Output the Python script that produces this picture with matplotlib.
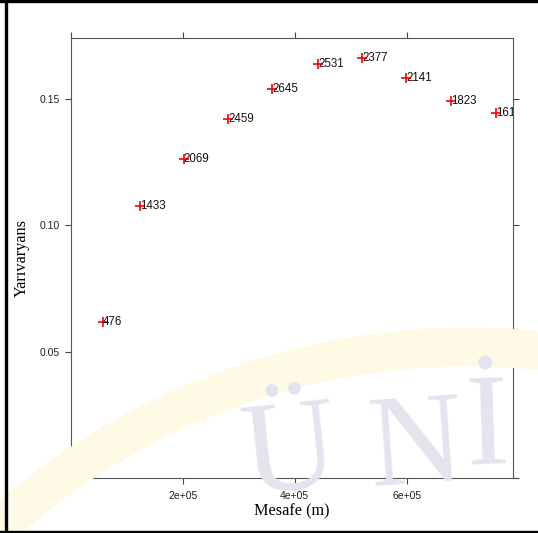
import matplotlib
matplotlib.use('Agg')
import matplotlib.pyplot as plt
from matplotlib.patches import Circle
from matplotlib.lines import Line2D

# empirical variogram: distance (m), semivariance, number of pairs
dist = [56400, 123700, 201800, 281400, 359500, 441600, 520200, 599300, 679600, 760000]
gamma = [0.0616, 0.1075, 0.1264, 0.1420, 0.1538, 0.1637, 0.1663, 0.1584, 0.1492, 0.1444]
npairs = ['476', '1433', '2069', '2459', '2645', '2531', '2377', '2141', '1823', '161']

x_ticks = [0, 200000, 400000, 600000]
x_labels = ['', '2e+05', '4e+05', '6e+05']
y_ticks = [0, 0.05, 0.10, 0.15]
y_labels = ['', '0.05', '0.10', '0.15']

fig = plt.figure(figsize=(5.38, 5.33), dpi=100)

# faint watermark in the background
ring = Circle((4.68, -5.16), 7.02, transform=fig.dpi_scale_trans, fill=False,
              edgecolor='#fefae6', lw=28, zorder=0)
fig.patches.append(ring)
wm = dict(color='#e4e4ef', family='Liberation Serif', fontsize=94,
          ha='center', va='baseline', zorder=0)
fig.text(290 / 538, 1 - 494 / 533, 'Ü', rotation=6, **wm)
fig.text(416 / 538, 1 - 486 / 533, 'N', rotation=4, **wm)
fig.text(487 / 538, 1 - 464 / 533, 'İ', rotation=2, **wm)

ax = fig.add_axes([71 / 538, 1 - 478 / 533, 442 / 538, 440 / 533])
ax.patch.set_alpha(0)

ax.plot(dist, gamma, linestyle='none', marker='+', color='red',
        markersize=7, markeredgewidth=1.2)
for d, g, n in zip(dist, gamma, npairs):
    ax.text(d, g, n, ha='left', va='center', fontsize=8.3,
            family='Liberation Sans', color='#111111', clip_on=True)

ax.set_xlim(0, 790000)
ax.set_ylim(0, 0.1741)
ax.set_xticks(x_ticks)
ax.set_xticklabels(x_labels)
ax.set_yticks(y_ticks)
ax.set_yticklabels(y_labels)
ax.tick_params(direction='out', length=4.2, width=0.8, color='#444444',
               labelsize=7.5, labelcolor='#222222',
               top=True, right=True, labeltop=False, labelright=False)
ax.tick_params(axis='x', pad=5)
ax.tick_params(axis='y', pad=4)
for lab in ax.get_xticklabels() + ax.get_yticklabels():
    lab.set_family('Liberation Sans')
for sp in ax.spines.values():
    sp.set_color('#555555')
    sp.set_linewidth(0.8)

ax.set_xlabel('Mesafe (m)', family='Liberation Serif', fontsize=11.7, labelpad=2)
ax.set_ylabel('Yarıvaryans', family='Liberation Serif', fontsize=11.7, labelpad=7)

# black frame on left, top and bottom of the image
for xs, ys in [([6 / 538, 6 / 538], [0, 1]), ([0, 1], [1 - 1 / 533, 1 - 1 / 533]),
               ([0, 1], [1.5 / 533, 1.5 / 533])]:
    fig.add_artist(Line2D(xs, ys, color='black', lw=2.4, transform=fig.transFigure))

fig.savefig('out.png', dpi=100)
